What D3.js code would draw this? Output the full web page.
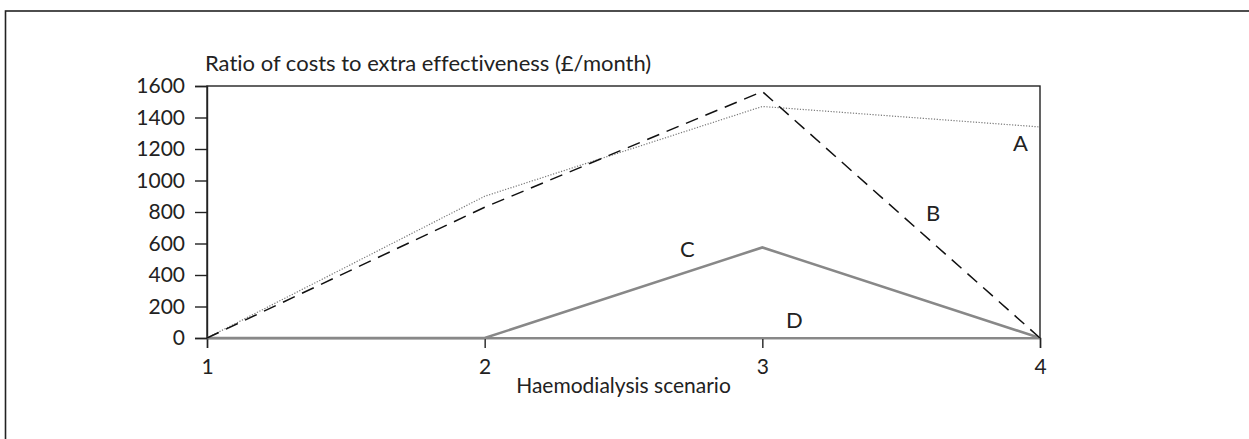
<!DOCTYPE html>
<html>
<head>
<meta charset="utf-8">
<script src="https://cdn.jsdelivr.net/npm/d3@7"></script>
<style>
  body { margin: 0; background: #fff; }
  svg text { font-family: Lato, "Open Sans", sans-serif; fill: #222; font-variant-ligatures: none; }
</style>
</head>
<body>
<svg id="chart" width="1249" height="439"></svg>
<script>
// Cost-effectiveness ratio by haemodialysis scenario

const scenarios = [1, 2, 3, 4];
const yTicks = [0, 200, 400, 600, 800, 1000, 1200, 1400, 1600];

const seriesA = [0, 900, 1470, 1340];
const seriesB = [0, 830, 1565, 0];
const seriesC = [0, 0, 575, 0];
const seriesD = [0, 0, 0, 0];

const seriesNames = ["A", "B", "C", "D"];
const seriesValues = [seriesA, seriesB, seriesC, seriesD];
// label anchor: scenario position + value
const labelX = [3.93, 3.615, 2.73, 3.115];
const labelY = [1240, 800, 570, 115];

const styles = {
  A: { stroke: "#777", width: 1.2, dash: "1.2,1.6" },
  B: { stroke: "#111", width: 1.5, dash: "13,8" },
  C: { stroke: "#888", width: 2.5, dash: null },
  D: { stroke: "#888", width: 2, dash: null }
};

const svg = d3.select("#chart");
const M = { top: 86, right: 209, bottom: 101, left: 207 };
const W = 1249 - M.left - M.right;
const H = 439 - M.top - M.bottom;

// outer frame
svg.append("rect")
  .attr("x", 5.5).attr("y", 11)
  .attr("width", 1260).attr("height", 460)
  .attr("fill", "none").attr("stroke", "#222").attr("stroke-width", 1.6);

const g = svg.append("g").attr("transform", `translate(${M.left},${M.top})`);

const x = d3.scaleLinear().domain([1, 4]).range([0, W]);
const y = d3.scaleLinear().domain([0, 1600]).range([H, 0]);

// plot box
g.append("rect")
  .attr("width", W).attr("height", H)
  .attr("fill", "none").attr("stroke", "#222").attr("stroke-width", 1.4);

// y axis
const yAxis = g.append("g")
  .call(d3.axisLeft(y).tickValues(yTicks).tickSize(12).tickPadding(10).tickFormat(d3.format("d")));
yAxis.select(".domain").attr("stroke", "#222").attr("stroke-width", 1.4);
yAxis.selectAll(".tick line").attr("stroke", "#222").attr("stroke-width", 1.4);
yAxis.selectAll("text").style("font-size", "21px").attr("fill", "#222");

// x axis
const xAxis = g.append("g").attr("transform", `translate(0,${H})`)
  .call(d3.axisBottom(x).tickValues(scenarios).tickSize(10).tickPadding(11).tickFormat(d3.format("d")));
xAxis.select(".domain").attr("stroke", "#222").attr("stroke-width", 1.4);
xAxis.selectAll(".tick line").attr("stroke", "#222").attr("stroke-width", 1.4);
xAxis.selectAll("text").style("font-size", "21px").attr("fill", "#222");

// titles
g.append("text")
  .attr("x", -2).attr("y", -15)
  .style("font-size", "22px")
  .text("Ratio of costs to extra effectiveness (£/month)");

g.append("text")
  .attr("x", W / 2).attr("y", H + 55)
  .attr("text-anchor", "middle")
  .style("font-size", "21px")
  .text("Haemodialysis scenario");

// lines
const line = d3.line().x((d, i) => x(scenarios[i])).y(d => y(d));

// draw D first so C sits on top
[3, 2, 0, 1].forEach(i => {
  const s = styles[seriesNames[i]];
  g.append("path")
    .datum(seriesValues[i])
    .attr("d", line)
    .attr("fill", "none")
    .attr("stroke", s.stroke)
    .attr("stroke-width", s.width)
    .attr("stroke-dasharray", s.dash);
});

// series labels
seriesNames.forEach((n, i) => {
  g.append("text")
    .attr("x", x(labelX[i])).attr("y", y(labelY[i]))
    .attr("text-anchor", "middle")
    .attr("dominant-baseline", "central")
    .style("font-size", "22px")
    .text(n);
});
</script>
</body>
</html>
